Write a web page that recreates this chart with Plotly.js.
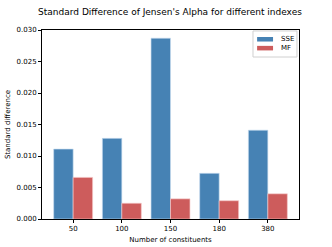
<!DOCTYPE html>
<html><head><meta charset="utf-8">
<script src="https://cdn.plot.ly/plotly-3.0.1.min.js"></script>
<style>html,body{margin:0;padding:0;background:#fff}#c{width:332px;height:247px}</style>
</head><body><div id="c"></div>
<script>
const categories = ["50", "100", "150", "180", "380"];
const sseValues = [0.0111, 0.0128, 0.0287, 0.00725, 0.0141];
const mfValues = [0.0066, 0.0025, 0.0032, 0.0029, 0.0040];
const yTicks = [0, 0.005, 0.010, 0.015, 0.020, 0.025, 0.030];
const seriesNames = ["SSE", "MF"];
const seriesColors = ["#4682b4", "#cd5c5c"];

const font = {family: "DejaVu Sans", color: "#000"};
const traces = [
  {type: "bar", name: seriesNames[0], x: categories, y: sseValues,
   marker: {color: seriesColors[0], line: {color: "rgba(200,220,240,0.8)", width: 0.8}}},
  {type: "bar", name: seriesNames[1], x: categories, y: mfValues,
   marker: {color: seriesColors[1], line: {color: "rgba(245,200,200,0.8)", width: 0.8}}}
];

// compact matplotlib-style legend
const shapes = [
  {type: "rect", xref: "paper", yref: "paper", x0: 0.821, x1: 0.992, y0: 0.857, y1: 0.995,
   line: {color: "#d0d0d0", width: 1}, fillcolor: "rgba(255,255,255,0.8)"}
];
const annotations = [];
const rowY = [0.951, 0.904];
seriesNames.forEach((n, i) => {
  shapes.push({type: "rect", xref: "paper", yref: "paper", x0: 0.837, x1: 0.899,
               y0: rowY[i] - 0.012, y1: rowY[i] + 0.012, line: {width: 0}, fillcolor: seriesColors[i]});
  annotations.push({xref: "paper", yref: "paper", x: 0.922, y: rowY[i], text: n, showarrow: false,
                    xanchor: "left", yanchor: "middle", font: Object.assign({size: 7}, font)});
});

const layout = {
  width: 332, height: 247,
  margin: {l: 42, r: 33, t: 30, b: 28},
  paper_bgcolor: "#fff", plot_bgcolor: "#fff",
  font: Object.assign({size: 7}, font),
  barmode: "group", bargap: 0.2, bargroupgap: 0,
  title: {text: "Standard Difference of Jensen's Alpha for different indexes",
          font: Object.assign({size: 9}, font), x: 0.512, xanchor: "center", y: 0.952, yanchor: "middle"},
  xaxis: {type: "category", range: [-0.64, 4.64], showgrid: false, zeroline: false,
          showline: true, linecolor: "#000", linewidth: 1, mirror: true,
          ticks: "outside", ticklen: 3, tickcolor: "#000", tickfont: Object.assign({size: 7}, font),
          title: {text: "Number of constituents", font: Object.assign({size: 7}, font), standoff: 4}},
  yaxis: {range: [0, 0.030], tickvals: yTicks, tickformat: ".3f", showgrid: false, zeroline: false,
          showline: true, linecolor: "#000", linewidth: 1, mirror: true,
          ticks: "outside", ticklen: 3, tickcolor: "#000", tickfont: Object.assign({size: 7}, font),
          title: {text: "Standard difference", font: Object.assign({size: 7}, font), standoff: 5}},
  shapes: shapes,
  annotations: annotations,
  showlegend: false
};
Plotly.newPlot("c", traces, layout, {displayModeBar: false, staticPlot: true});
</script></body></html>
